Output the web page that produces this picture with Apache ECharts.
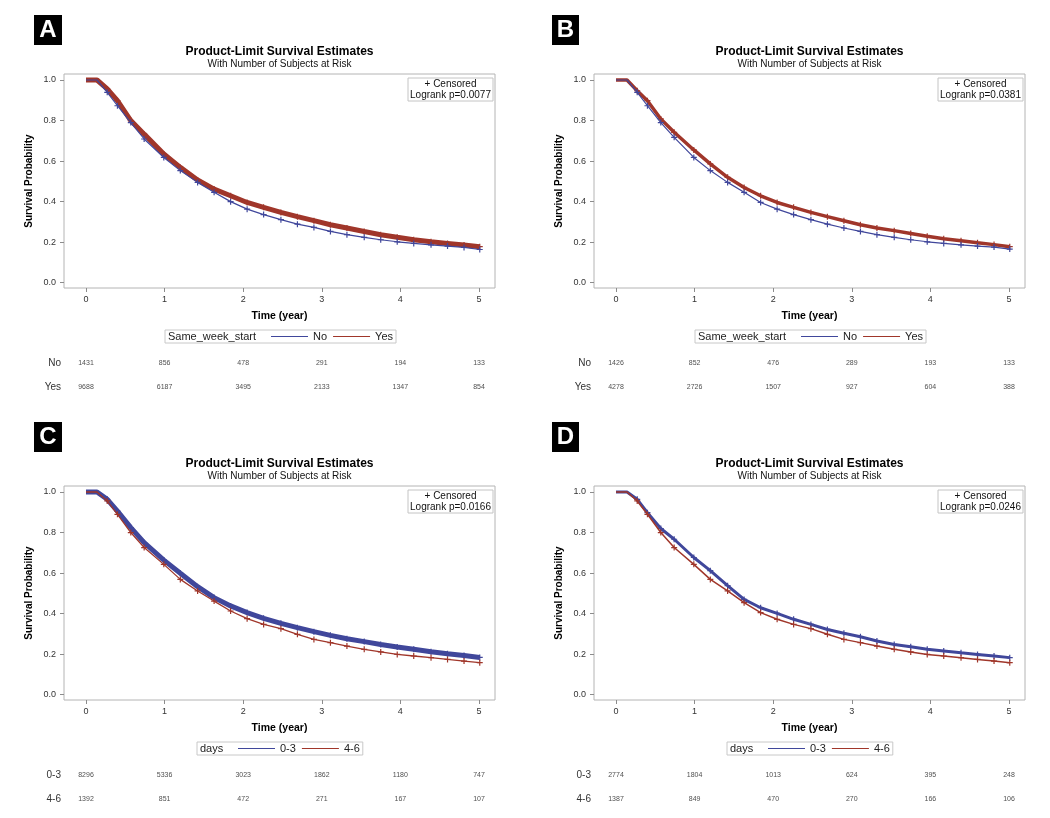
<!DOCTYPE html>
<html><head><meta charset="utf-8">
<script src="https://cdn.jsdelivr.net/npm/echarts@6/dist/echarts.min.js"></script>
<style>html,body{margin:0;padding:0;background:#fff}#c{width:1050px;height:818px}</style>
</head><body><div id="c"></div>
<script>
// ---------- DATA ----------
const TIME = [0, 0.14, 0.27, 0.40, 0.57, 0.74, 0.99, 1.20, 1.42, 1.63, 1.84, 2.05, 2.26, 2.48, 2.69, 2.90, 3.11, 3.32, 3.54, 3.75, 3.96, 4.17, 4.39, 4.60, 4.81, 5.01];

const A_NO  = [1, 1, 0.939, 0.873, 0.790, 0.709, 0.618, 0.553, 0.495, 0.446, 0.400, 0.363, 0.336, 0.311, 0.289, 0.273, 0.253, 0.237, 0.224, 0.212, 0.202, 0.194, 0.187, 0.181, 0.174, 0.164];
const A_YES = [1, 1, 0.956, 0.898, 0.800, 0.733, 0.635, 0.569, 0.507, 0.462, 0.429, 0.396, 0.372, 0.347, 0.326, 0.306, 0.286, 0.270, 0.253, 0.237, 0.224, 0.212, 0.202, 0.194, 0.186, 0.178];

const B_NO  = [1, 1, 0.939, 0.873, 0.790, 0.717, 0.618, 0.553, 0.495, 0.446, 0.396, 0.363, 0.336, 0.311, 0.289, 0.270, 0.253, 0.237, 0.224, 0.212, 0.202, 0.194, 0.187, 0.181, 0.176, 0.166];
const B_YES = [1, 1, 0.947, 0.898, 0.808, 0.742, 0.655, 0.586, 0.520, 0.470, 0.429, 0.396, 0.372, 0.347, 0.326, 0.306, 0.286, 0.270, 0.257, 0.243, 0.229, 0.217, 0.207, 0.197, 0.188, 0.178];

const C_03 = [1, 1, 0.964, 0.906, 0.824, 0.750, 0.664, 0.599, 0.533, 0.479, 0.438, 0.405, 0.377, 0.352, 0.331, 0.311, 0.293, 0.276, 0.262, 0.248, 0.235, 0.224, 0.212, 0.202, 0.194, 0.184];
const C_46 = [1, 1, 0.956, 0.890, 0.800, 0.726, 0.643, 0.569, 0.512, 0.462, 0.413, 0.375, 0.347, 0.326, 0.298, 0.273, 0.257, 0.240, 0.224, 0.211, 0.199, 0.191, 0.183, 0.174, 0.166, 0.158];

const D_03 = [1, 1, 0.964, 0.898, 0.820, 0.767, 0.677, 0.612, 0.538, 0.470, 0.429, 0.401, 0.372, 0.347, 0.322, 0.303, 0.286, 0.265, 0.248, 0.237, 0.224, 0.216, 0.207, 0.199, 0.191, 0.183];
const D_46 = [1, 1, 0.956, 0.890, 0.800, 0.726, 0.643, 0.569, 0.512, 0.454, 0.405, 0.372, 0.347, 0.326, 0.298, 0.273, 0.257, 0.240, 0.224, 0.211, 0.199, 0.191, 0.183, 0.174, 0.166, 0.158];

const X_TICKS = [0, 1, 2, 3, 4, 5];
const Y_TICKS = [0, 0.2, 0.4, 0.6, 0.8, 1.0];
const RISK_TIMES = [0, 1, 2, 3, 4, 5];

const A_RISK_NO  = [1431, 856, 478, 291, 194, 133];
const A_RISK_YES = [9688, 6187, 3495, 2133, 1347, 854];
const B_RISK_NO  = [1426, 852, 476, 289, 193, 133];
const B_RISK_YES = [4278, 2726, 1507, 927, 604, 388];
const C_RISK_03  = [8296, 5336, 3023, 1862, 1180, 747];
const C_RISK_46  = [1392, 851, 472, 271, 167, 107];
const D_RISK_03  = [2774, 1804, 1013, 624, 395, 248];
const D_RISK_46  = [1387, 849, 470, 270, 166, 106];

const GROUPS_WEEK = ['No', 'Yes'];
const GROUPS_DAYS = ['0-3', '4-6'];
const LEGEND_TITLES = ['Same_week_start', 'Same_week_start', 'days', 'days'];
const LETTERS = ['A', 'B', 'C', 'D'];
const LOGRANK_P = ['0.0077', '0.0381', '0.0166', '0.0246'];
const TITLE = 'Product-Limit Survival Estimates';
const SUBTITLE = 'With Number of Subjects at Risk';

// ---------- STYLE / LAYOUT ----------
const BLUE = '#40479B', RED = '#A0362A';
const FONT = 'Liberation Sans, Arial, Helvetica, sans-serif';
const PLUS = 'path://M4,0H6V10H4Z M0,4H10V6H0Z';

const panels = [
  { dx: 0,   dy: 0,   lx: 34,  ly: 15,  lw: 28, groups: GROUPS_WEEK, curves: [A_NO, A_YES], widths: [1.2, 5],   risk: [A_RISK_NO, A_RISK_YES], legPad: 106 },
  { dx: 530, dy: 0,   lx: 552, ly: 15,  lw: 27, groups: GROUPS_WEEK, curves: [B_NO, B_YES], widths: [1.2, 3.5], risk: [B_RISK_NO, B_RISK_YES], legPad: 106 },
  { dx: 0,   dy: 412, lx: 34,  ly: 422, lw: 28, groups: GROUPS_DAYS, curves: [C_03, C_46], widths: [5, 1.3],   risk: [C_RISK_03, C_RISK_46], legPad: 41 },
  { dx: 530, dy: 412, lx: 552, ly: 422, lw: 27, groups: GROUPS_DAYS, curves: [D_03, D_46], widths: [3, 1.5],   risk: [D_RISK_03, D_RISK_46], legPad: 41 }
];
const legLeftBase = [165, 165, 197, 197];

const PL = 64, PT = 74, PW = 431, PH = 214;
const XMIN = -0.28, XMAX = 5.204, YMIN = -0.026, YMAX = 1.0296;

const grid = [], xAxis = [], yAxis = [], series = [], legend = [], graphic = [];

panels.forEach((p, i) => {
  const left = PL + p.dx, top = PT + p.dy;
  grid.push({ left, top, width: PW, height: PH, show: true, borderColor: '#b4b4b4', borderWidth: 1, backgroundColor: '#fff' });
  xAxis.push({
    type: 'value', gridIndex: i, min: XMIN, max: XMAX,
    axisLine: { show: false, onZero: false },
    axisTick: { show: true, length: 4, lineStyle: { color: '#8c8c8c' }, customValues: X_TICKS },
    axisLabel: { customValues: X_TICKS, fontSize: 9, color: '#333', margin: 7, formatter: v => String(v) },
    splitLine: { show: false },
    name: 'Time (year)', nameLocation: 'middle', nameGap: 23,
    nameTextStyle: { fontWeight: 'bold', fontSize: 10.5, color: '#000' }
  });
  yAxis.push({
    type: 'value', gridIndex: i, min: YMIN, max: YMAX,
    axisLine: { show: false, onZero: false },
    axisTick: { show: true, length: 4, lineStyle: { color: '#8c8c8c' }, customValues: Y_TICKS },
    axisLabel: { customValues: Y_TICKS, fontSize: 9, color: '#333', margin: 8, formatter: v => v.toFixed(1) },
    splitLine: { show: false },
    name: 'Survival Probability', nameLocation: 'middle', nameGap: 30,
    nameTextStyle: { fontWeight: 'bold', fontSize: 10, color: '#000' }
  });
  p.curves.forEach((vals, k) => {
    const color = k === 0 ? BLUE : RED;
    series.push({
      type: 'line', name: p.groups[k], xAxisIndex: i, yAxisIndex: i,
      data: TIME.map((t, j) => j < 2 ? { value: [t, vals[j]], symbolSize: 0 } : [t, vals[j]]),
      symbol: PLUS, symbolSize: 6, showSymbol: true,
      lineStyle: { color, width: p.widths[k] },
      itemStyle: { color },
      z: p.widths[k] > 2 ? 2 : 3,
      animation: false, silent: true
    });
  });
});

// at-risk tables (own grids aligned with the plot x-scale)
panels.forEach((p, i) => {
  const gi = 4 + i;
  grid.push({ left: PL + p.dx, top: 351 + p.dy, width: PW, height: 48 });
  xAxis.push({ type: 'value', gridIndex: gi, min: XMIN, max: XMAX, show: false });
  yAxis.push({
    type: 'category', gridIndex: gi, data: p.groups, inverse: true,
    axisLine: { show: false }, axisTick: { show: false }, splitLine: { show: false },
    axisLabel: { fontSize: 10, color: '#333', margin: 3 }
  });
  p.risk.forEach((row, k) => {
    series.push({
      type: 'scatter', xAxisIndex: gi, yAxisIndex: gi, symbolSize: 1,
      itemStyle: { color: 'transparent' }, silent: true, animation: false,
      data: RISK_TIMES.map((t, j) => [t, k, row[j]]),
      label: { show: true, position: 'inside', formatter: q => String(q.value[2]), fontSize: 7, color: '#222' }
    });
  });
});

// legends, titles, letters, censor boxes
panels.forEach((p, i) => {
  const cx = PL + p.dx + PW / 2;
  legend.push({
    data: p.groups, left: legLeftBase[i] + p.dx, top: 330 + p.dy,
    padding: [0.5, 3, 0.5, p.legPad], itemGap: 6, itemWidth: 37, itemHeight: 1,
    icon: 'rect', borderColor: '#c8c8c8', borderWidth: 1, selectedMode: false,
    textStyle: { fontSize: 11, color: '#222', lineHeight: 12 }
  });
  graphic.push({ type: 'text', x: legLeftBase[i] + p.dx + 3, y: 337 + p.dy,
    style: { text: LEGEND_TITLES[i], fontSize: 11, fontFamily: FONT, fill: '#222', verticalAlign: 'middle', align: 'left' } });

  graphic.push({ type: 'text', x: cx, y: 52 + p.dy,
    style: { text: TITLE, fontSize: 12, fontWeight: 'bold', fontFamily: FONT, fill: '#000', align: 'center', verticalAlign: 'middle' } });
  graphic.push({ type: 'text', x: cx, y: 64.5 + p.dy,
    style: { text: SUBTITLE, fontSize: 10, fontFamily: FONT, fill: '#111', align: 'center', verticalAlign: 'middle' } });

  graphic.push({ type: 'rect', shape: { x: p.lx, y: p.ly, width: p.lw, height: 30 }, style: { fill: '#000' } });
  graphic.push({ type: 'text', x: p.lx + p.lw / 2, y: p.ly + 15.5,
    style: { text: LETTERS[i], fontSize: 24, fontWeight: 'bold', fontFamily: FONT, fill: '#fff', align: 'center', verticalAlign: 'middle' } });

  const bx = PL + p.dx + PW - 87, by = PT + p.dy + 4;
  graphic.push({ type: 'rect', z: 10, shape: { x: bx, y: by, width: 85, height: 23 }, style: { fill: '#fff', stroke: '#c4c4c4', lineWidth: 1 } });
  graphic.push({ type: 'text', z: 11, x: bx + 42.5, y: by + 6.5,
    style: { text: '+ Censored', fontSize: 10, fontFamily: FONT, fill: '#111', align: 'center', verticalAlign: 'middle' } });
  graphic.push({ type: 'text', z: 11, x: bx + 42.5, y: by + 17,
    style: { text: 'Logrank p=' + LOGRANK_P[i], fontSize: 10, fontFamily: FONT, fill: '#111', align: 'center', verticalAlign: 'middle' } });
});

const chart = echarts.init(document.getElementById('c'), null, { renderer: 'canvas' });
chart.setOption({
  animation: false,
  backgroundColor: '#fff',
  textStyle: { fontFamily: FONT },
  grid, xAxis, yAxis, series, legend, graphic
});
</script></body></html>
